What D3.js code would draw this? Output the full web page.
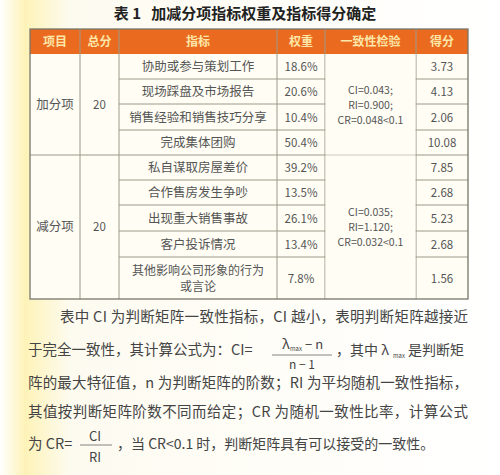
<!DOCTYPE html>
<html><head><meta charset="utf-8">
<script src="https://cdn.jsdelivr.net/npm/d3@7"></script>
<style>body{margin:0;background:#fff}</style>
</head><body><svg width="500" height="475"></svg>
<script>
const headers = ["项目", "总分", "指标", "权重", "一致性检验", "得分"];
const groups = ["加分项", "减分项"];
const groupTotals = [20, 20];
const groupSizes = [4, 5];
const indicators = ["协助或参与策划工作", "现场踩盘及市场报告", "销售经验和销售技巧分享", "完成集体团购",
  "私自谋取房屋差价", "合作售房发生争吵", "出现重大销售事故", "客户投诉情况", "其他影响公司形象的行为|或言论"];
const weights = ["18.6%", "20.6%", "10.4%", "50.4%", "39.2%", "13.5%", "26.1%", "13.4%", "7.8%"];
const scores = ["3.73", "4.13", "2.06", "10.08", "7.85", "2.68", "5.23", "2.68", "1.56"];
const checks = [["CI=0.043;", "RI=0.900;", "CR=0.048<0.1"], ["CI=0.035;", "RI=1.120;", "CR=0.032<0.1"]];
const rowHeights = [25, 25, 26, 25, 25, 25, 26, 26, 42];

const svg = d3.select("svg");
const defs = svg.append("defs");
const g = defs.append("linearGradient").attr("id", "bg").attr("x1", 0).attr("x2", 1);
g.append("stop").attr("offset", "0%").attr("stop-color", "#fff");
g.append("stop").attr("offset", "5%").attr("stop-color", "#fdf3b8");
g.append("stop").attr("offset", "14%").attr("stop-color", "#fdfbf0");
g.append("stop").attr("offset", "100%").attr("stop-color", "#fff");
svg.append("rect").attr("width", 500).attr("height", 475).attr("fill", "url(#bg)");

const font = "'Noto Sans CJK SC', serif";
const colEdges = [30, 80, 119, 277, 325, 416, 468];
const x = i => colEdges[i], cx = i => (colEdges[i] + colEdges[i + 1]) / 2;
const tTop = 29, headH = 25;
const yEdges = [tTop + headH];
rowHeights.forEach(h => yEdges.push(yEdges[yEdges.length - 1] + h));
const bottom = yEdges[yEdges.length - 1];

svg.append("text").attr("x", 245).attr("y", 19).attr("text-anchor", "middle").attr("xml:space", "preserve")
  .attr("font-family", font).attr("font-weight", "bold").attr("font-size", 15).attr("fill", "#222")
  .text("表 1   加减分项指标权重及指标得分确定");

// header
svg.append("rect").attr("x", 30).attr("y", tTop).attr("width", 438).attr("height", headH).attr("fill", "#ea6a1f");
svg.append("rect").attr("x", 30).attr("y", tTop + headH).attr("width", 438).attr("height", bottom - tTop - headH).attr("fill", "#fffdf4");
svg.selectAll(".h").data(headers).join("text")
  .attr("x", (d, i) => cx(i)).attr("y", tTop + 17).attr("text-anchor", "middle")
  .attr("font-family", font).attr("font-weight", "bold").attr("font-size", 12).attr("fill", "#fde7a8").text(d => d);

const lines = svg.append("g").attr("stroke", "#9a9a88").attr("stroke-width", 1);
colEdges.slice(1, -1).forEach(cxv => lines.append("line").attr("x1", cxv).attr("x2", cxv).attr("y1", tTop).attr("y2", bottom));
yEdges.slice(1, -1).forEach((yv, i) => {
  const groupEnd = i + 1 === groupSizes[0];
  lines.append("line").attr("x1", groupEnd ? 30 : 119).attr("x2", 468).attr("y1", yv).attr("y2", yv);
});
let start = 0;
groupSizes.forEach(n => {
  svg.append("rect").attr("x", x(4) + 0.5).attr("y", yEdges[start] + 0.5).attr("width", x(5) - x(4) - 1)
    .attr("height", yEdges[start + n] - yEdges[start] - 1).attr("fill", "#fffdf4");
  start += n;
});
svg.append("rect").attr("x", 30).attr("y", tTop).attr("width", 438).attr("height", bottom - tTop)
  .attr("fill", "none").attr("stroke", "#77776a").attr("stroke-width", 1.3);

const txt = (xx, yy, s, size = 12.5) => svg.append("text").attr("x", xx).attr("y", yy).attr("text-anchor", "middle")
  .attr("font-family", font).attr("font-size", size).attr("fill", "#555").text(s);
const mid = i => (yEdges[i] + yEdges[i + 1]) / 2 + 4.5;
indicators.forEach((d, i) => {
  const parts = d.split("|");
  if (parts.length === 1) txt(cx(2), mid(i), d);
  else parts.forEach((p, k) => txt(cx(2), mid(i) - 8 + k * 16, p, 12));
  txt(cx(3), mid(i), weights[i], 11.5);
  txt(cx(5), mid(i), scores[i], 11.5);
});
start = 0;
groupSizes.forEach((n, gi) => {
  const m = (yEdges[start] + yEdges[start + n]) / 2 + 4;
  txt(cx(0), m, groups[gi]);
  txt(cx(1), m, groupTotals[gi], 11.5);
  checks[gi].forEach((c, k) => txt(cx(4), m - 15 + k * 15, c, 10.5));
  start += n;
});

// paragraph
const para = [
  [60, 322, "表中 CI 为判断矩阵一致性指标，CI 越小，表明判断矩阵越接近"],
  [28, 355, "于完全一致性，其计算公式为：CI="],
  [28, 388, "阵的最大特征值，n 为判断矩阵的阶数；RI 为平均随机一致性指标，"],
  [28, 417, "其值按判断矩阵阶数不同而给定；CR 为随机一致性比率，计算公式"],
  [28, 449, "为 CR="]
];
para.forEach(([px, py, s]) => svg.append("text").attr("x", px).attr("y", py).attr("font-family", font)
  .attr("font-size", 14.5).attr("fill", "#444").attr("textLength", s.length > 20 ? 440 - px + 28 : null).text(s));
const sv = (xx, yy, s, size = 14, anchor = "start") => svg.append("text").attr("x", xx).attr("y", yy)
  .attr("text-anchor", anchor).attr("font-family", font).attr("font-size", size).attr("fill", "#444").text(s);
sv(282, 349, "λ", 14); sv(290, 351, "max", 6);
sv(305, 349, "− n", 13);
svg.append("line").attr("x1", 272).attr("x2", 332).attr("y1", 355).attr("y2", 355).attr("stroke", "#666").attr("stroke-width", 0.8);
sv(302, 369, "n − 1", 12, "middle");
sv(336, 355, "，其中 λ"); sv(393, 358, "max", 6); sv(408, 355, "是判断矩");
sv(95, 441, "CI", 13, "middle");
svg.append("line").attr("x1", 80).attr("x2", 112).attr("y1", 445).attr("y2", 445).attr("stroke", "#666").attr("stroke-width", 0.8);
sv(95, 462, "RI", 13, "middle");
sv(117, 449, "，当 CR<0.1 时，判断矩阵具有可以接受的一致性。");
</script></body></html>
